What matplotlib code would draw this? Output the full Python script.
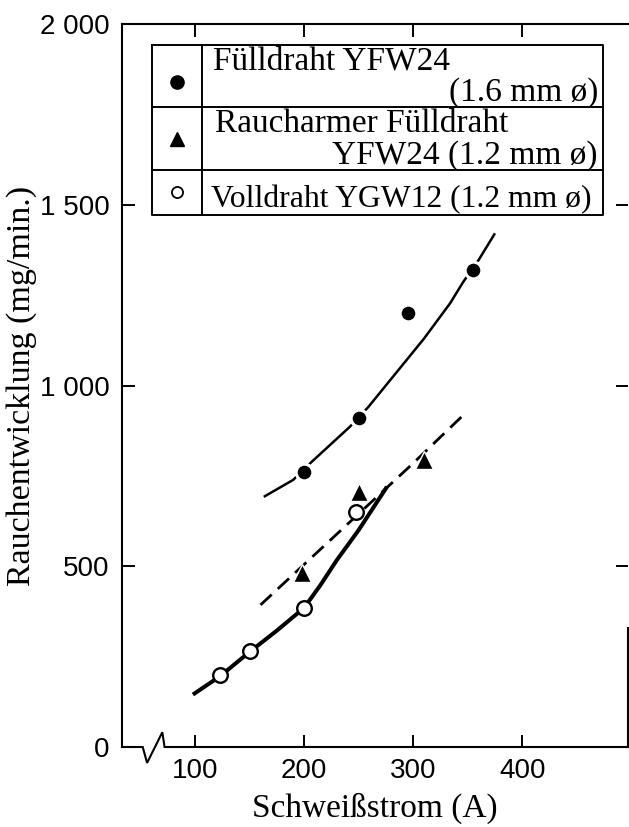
import matplotlib
matplotlib.use("Agg")
import matplotlib.pyplot as plt
from matplotlib import font_manager

# measured points
fd16_x = [200, 250, 295, 355]
fd16_y = [760, 910, 1200, 1320]
rfd_x = [198, 250, 310]
rfd_y = [480, 705, 795]
vd_x = [123, 150, 200, 248]
vd_y = [200, 265, 385, 650]

# hand drawn fitting curves
fd16_cx = [163, 190, 207, 242, 259, 310, 334, 346, 360, 375]
fd16_cy = [692, 739, 789, 886, 941, 1130, 1228, 1287, 1347, 1421]
rfd_cx = [160, 200, 250, 300, 348]
rfd_cy = [393, 505, 645, 785, 924]
vd_cx = [98, 123, 150, 175, 200, 215, 230, 250, 276]
vd_cy = [145, 196, 263, 322, 385, 448, 517, 600, 720]

xticks = [100, 200, 300, 400]
yticks = [0, 500, 1000, 1500, 2000]
ylabels = ["0", "500", "1 000", "1 500", "2 000"]

legend_rows = [
    ("Fülldraht YFW24", "(1.6 mm ø)"),
    ("Raucharmer Fülldraht", "YFW24 (1.2 mm ø)"),
    ("Volldraht YGW12 (1.2 mm ø)", None),
]

plt.rcParams['font.family'] = ['Liberation Serif', 'DejaVu Serif']

names = {f.name for f in font_manager.fontManager.ttflist}
if 'Liberation Sans Narrow' in names:
    tick_font = dict(family='Liberation Sans Narrow', size=22)
else:
    tick_font = dict(family='Liberation Sans', size=20)

W, H = 629, 827
fig = plt.figure(figsize=(W / 100, H / 100), dpi=100)
ax = fig.add_axes([122 / W, 1 - 747 / H, (628 - 122) / W, (747 - 24) / H])
ax.set_xlim(33, 497)
ax.set_ylim(0, 2000)

# curves
ax.plot(fd16_cx, fd16_cy, color='black', lw=1.8, zorder=2, solid_capstyle='butt')
ax.plot(rfd_cx, rfd_cy, color='black', lw=2.0, dashes=(5.5, 3), zorder=2)
ax.plot(vd_cx, vd_cy, color='black', lw=2.9, zorder=2, solid_capstyle='butt')

# points
ax.plot(fd16_x, fd16_y, 'o', ms=12, mfc='black', mec='white', mew=2.2, zorder=4)
ax.plot(rfd_x, rfd_y, '^', ms=13.5, mfc='black', mec='white', mew=1.0, zorder=4)
ax.plot(vd_x, vd_y, 'o', ms=10.5, mfc='white', mec='black', mew=1.7, zorder=4)

# spines / ticks
for s in ax.spines.values():
    s.set_linewidth(1.5)
ax.spines['bottom'].set_visible(False)
ax.spines['right'].set_bounds(0, 330)
ax.plot([33, 52, 56, 70, 72, 497], [0, 0, -44, 41, 0, 0], color='black',
        lw=1.5, clip_on=False, zorder=5, solid_joinstyle='miter')

ax.set_xticks(xticks)
ax.set_xticklabels([str(v) for v in xticks], fontdict=tick_font)
ax.set_yticks(yticks)
ax.set_yticklabels(ylabels, fontdict=tick_font)
ax.tick_params(axis='both', direction='in', length=9, width=1.4,
               top=True, right=True)
ax.tick_params(axis='x', pad=8)
ax.tick_params(axis='y', pad=9)

ax.set_xlabel("Schweißstrom (A)", fontsize=24, labelpad=6)
ax.set_ylabel("Rauchentwicklung (mg/min.)", fontsize=24.5, labelpad=2)

# legend drawn as a table
def fx(px):
    return px / W

def fy(py):
    return 1 - py / H

L, R, C = 152, 603, 202
rows = [45, 107, 170, 215]
lk = dict(color='black', lw=1.4, transform=fig.transFigure, zorder=6)
fig.add_artist(plt.Line2D([fx(L), fx(R), fx(R), fx(L), fx(L)],
                          [fy(rows[0]), fy(rows[0]), fy(rows[-1]), fy(rows[-1]), fy(rows[0])], **lk))
fig.add_artist(plt.Line2D([fx(C), fx(C)], [fy(rows[0]), fy(rows[-1])], **lk))
for r in rows[1:-1]:
    fig.add_artist(plt.Line2D([fx(L), fx(R)], [fy(r), fy(r)], **lk))

mk = dict(transform=fig.transFigure, color='black', linestyle='none')
fig.add_artist(plt.Line2D([fx(177)], [fy(82)], marker='o', ms=9.5, **mk))
fig.add_artist(plt.Line2D([fx(177)], [fy(139)], marker='^', ms=10, **mk))
fig.add_artist(plt.Line2D([fx(177)], [fy(192)], marker='o', ms=8, mfc='white',
                          mec='black', mew=1.3, **mk))

fs = 24
fig.text(fx(213), fy(69), legend_rows[0][0], fontsize=fs, va='baseline', ha='left')
fig.text(fx(598), fy(101), legend_rows[0][1], fontsize=fs, va='baseline', ha='right')
fig.text(fx(215), fy(132), legend_rows[1][0], fontsize=fs, va='baseline', ha='left')
fig.text(fx(598), fy(164), legend_rows[1][1], fontsize=fs, va='baseline', ha='right')
fig.text(fx(211), fy(207), legend_rows[2][0], fontsize=22.8, va='baseline', ha='left')

fig.savefig("out.png", dpi=100)
